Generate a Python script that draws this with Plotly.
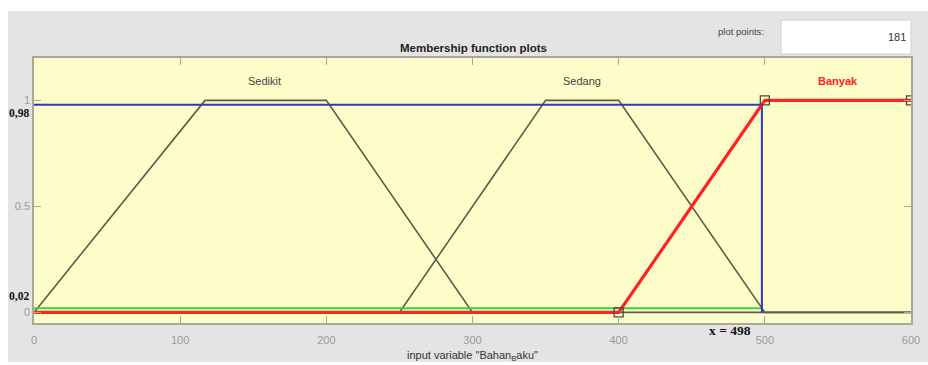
import plotly.graph_objects as go

# Membership functions of the input variable (universe 0..600)
sedikit_x = [0, 117, 200, 300, 600]
sedikit_y = [0, 1, 1, 0, 0]
sedang_x = [0, 250, 350, 400, 500, 600]
sedang_y = [0, 0, 1, 1, 0, 0]
banyak_x = [0, 400, 500, 600]
banyak_y = [0, 0, 1, 1]
banyak_pts_x = [400, 500, 600]
banyak_pts_y = [0, 1, 1]

mf_names = ["Sedikit", "Sedang", "Banyak"]
mf_label_x = [158, 375, 550]

# Evaluated input and resulting membership degrees
x_input = 498
mu_high = 0.98
mu_low = 0.02

x_ticks = [0, 100, 200, 300, 400, 500, 600]
y_ticks = [0, 0.5, 1]
y_tick_text = ["0", "0.5", "1"]
plot_points = 181

W, H = 928, 365
L, R, T, B = 34, 17, 58, 42
pw, ph = W - L - R, H - T - B

SANS = "Liberation Sans, Arial"
SERIF = "Liberation Serif, Times New Roman"


def px(xp):
    return (xp - L) / pw


def py(yp):
    return (H - B - yp) / ph


mf_color = "#5c5c4c"
fig = go.Figure()
fig.add_trace(go.Scatter(x=sedikit_x, y=sedikit_y, mode="lines",
                         line=dict(color=mf_color, width=1.6)))
fig.add_trace(go.Scatter(x=sedang_x, y=sedang_y, mode="lines",
                         line=dict(color=mf_color, width=1.6)))
fig.add_trace(go.Scatter(x=[0, x_input], y=[mu_low, mu_low], mode="lines",
                         line=dict(color="#33d633", width=2)))
fig.add_trace(go.Scatter(x=[0, x_input, x_input], y=[mu_high, mu_high, 0],
                         mode="lines", line=dict(color="#3434c4", width=2)))
fig.add_trace(go.Scatter(x=banyak_x, y=banyak_y, mode="lines",
                         line=dict(color="#ff2222", width=3.2)))
fig.add_trace(go.Scatter(x=banyak_pts_x, y=banyak_pts_y, mode="markers",
                         marker=dict(symbol="square-open", size=9,
                                     color="#4a4a40", line=dict(width=1.3))))

shapes = [
    # white margins around the grey panel
    dict(type="rect", xref="paper", yref="paper", x0=px(0), x1=px(W),
         y0=py(11), y1=py(0), fillcolor="white", line=dict(width=0), layer="below"),
    dict(type="rect", xref="paper", yref="paper", x0=px(0), x1=px(8),
         y0=py(H), y1=py(0), fillcolor="white", line=dict(width=0), layer="below"),
    dict(type="rect", xref="paper", yref="paper", x0=px(0), x1=px(W),
         y0=py(H), y1=py(362), fillcolor="white", line=dict(width=0), layer="below"),
    # plot points edit box
    dict(type="rect", xref="paper", yref="paper", x0=px(781), x1=px(911),
         y0=py(54), y1=py(20), fillcolor="white",
         line=dict(color="#d0d0d0", width=1), layer="below"),
]


def note(text, x, y, size, color="#111", family=SANS, xanchor="center",
         xref="paper", yref="paper", xshift=0, yshift=0):
    return dict(text=text, x=x, y=y, xref=xref, yref=yref, xanchor=xanchor,
                yanchor="middle", xshift=xshift, yshift=yshift, showarrow=False,
                font=dict(family=family, size=size, color=color))


ann = [
    note("<b>Membership function plots</b>", px(473), py(48), 11.5, "#1e1e1e"),
    note("plot points:", px(766), py(31), 9.5, "#444", xanchor="right"),
    note(str(plot_points), px(908), py(37), 11, "#333", xanchor="right"),
    note(f"<b>x = {x_input}</b>", x_input, py(330), 13.5, family=SERIF,
         xanchor="right", xref="x", xshift=-9),
    # degree labels sit just beside the axis, clear of the 1 and 0 tick labels
    note("<b>" + f"{mu_high}".replace(".", ",") + "</b>", px(31), mu_high, 11.5,
         family=SERIF, xanchor="right", yref="y", yshift=-8),
    note("<b>" + f"{mu_low}".replace(".", ",") + "</b>", px(31), mu_low, 11.5,
         family=SERIF, xanchor="right", yref="y", yshift=12),
]
for name, lx in zip(mf_names, mf_label_x):
    red = name == "Banyak"
    ann.append(note(f"<b>{name}</b>" if red else name, lx, 1.09, 11,
                    "#ff2222" if red else "#444", xref="x", yref="y"))

fig.update_layout(
    width=W, height=H,
    margin=dict(l=L, r=R, t=T, b=B),
    paper_bgcolor="#e4e4e4",
    plot_bgcolor="#fdfdc9",
    showlegend=False,
    shapes=shapes,
    annotations=ann,
    xaxis=dict(range=[0, 600], tickvals=x_ticks, ticks="inside", ticklen=7,
               tickcolor="#a8a89a", showgrid=False, zeroline=False,
               showline=True, linecolor="#a8a89a", linewidth=1.5, mirror="allticks",
               ticklabelstandoff=6, automargin=False,
               tickfont=dict(family=SANS, size=11, color="#9a9a9a"),
               title=dict(text='input variable "Bahan<sub>B</sub>aku"', standoff=6,
                          font=dict(family=SANS, size=11, color="#333"))),
    yaxis=dict(range=[-0.05, 1.2], tickvals=y_ticks, ticktext=y_tick_text,
               ticks="inside", ticklen=7, tickcolor="#a8a89a", showgrid=False,
               zeroline=False, showline=True, linecolor="#a8a89a", linewidth=1.5,
               mirror="allticks", automargin=False,
               tickfont=dict(family=SANS, size=11, color="#9a9a9a")),
)

fig.write_html("out.html")
